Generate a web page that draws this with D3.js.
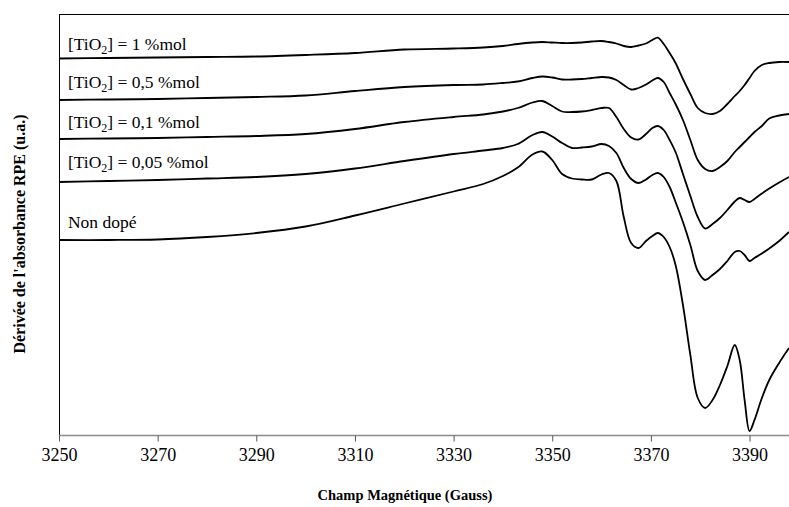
<!DOCTYPE html>
<html>
<head>
<meta charset="utf-8">
<script src="https://cdn.jsdelivr.net/npm/d3@7"></script>
<style>
  html, body { margin: 0; padding: 0; background: #fff; }
  svg { display: block; }
  svg text { font-family: "Liberation Serif", "Times New Roman", Times, serif; fill: #000; }
</style>
</head>
<body>
<svg id="chart" width="789" height="507"></svg>
<script>
// Magnetic field (Gauss)
const field = [3250, 3260, 3270, 3280, 3290, 3300, 3310, 3320, 3330, 3336, 3340, 3343, 3346, 3348, 3350, 3352, 3354, 3356, 3358, 3360, 3361.5, 3363, 3364.5, 3366, 3367.5, 3369, 3370.3, 3371.4, 3372.6, 3373.8, 3375, 3376.5, 3378, 3379.5, 3381, 3382.5, 3384, 3385.5, 3387, 3388, 3389, 3390, 3391, 3392.5, 3394, 3396, 3398];

// EPR absorbance derivative (u.a.), curves offset vertically
const tio2_1 = [376.5, 377, 377.5, 378, 378.5, 380, 382, 385.5, 386.5, 387.5, 389, 391, 392.5, 393, 392.5, 392, 392, 392.5, 393.5, 394, 393, 391.5, 389, 388, 389.5, 391.5, 395, 397.3, 391, 382, 372, 356, 341, 327, 322, 321, 324, 331, 339, 344, 350, 357, 364, 370, 372, 373, 373];
const tio2_05 = [335, 335.5, 336, 337, 338, 339.5, 344, 348, 350, 350.5, 352, 353.5, 357, 358.5, 357.5, 355.5, 355.5, 356, 357, 358, 357.5, 355, 350, 345.5, 347, 350.5, 354.5, 357, 353, 342, 331, 315, 295, 275, 266, 264, 268, 274, 283, 288, 293, 298, 303, 309, 316.5, 319.5, 321];
const tio2_01 = [296, 296.5, 297, 298, 299, 301, 306, 313, 318, 320.5, 323.5, 327, 332.5, 334, 329, 323.5, 323, 323.5, 325, 327, 327, 318, 306, 297.5, 295.5, 301, 307, 309, 305, 295, 283, 261, 239, 218, 206.5, 211, 217, 225, 233.5, 237, 235, 233, 236, 241.5, 246.5, 252.5, 258];
const tio2_005 = [253, 254, 255, 256.5, 258, 261, 266.5, 274, 281, 284.5, 287, 291, 300, 303, 298.5, 292, 287, 287.5, 288.5, 291, 289, 282, 267, 256, 252, 255.5, 260, 262, 258, 248, 233, 213, 190, 164, 155, 160, 166, 174, 183, 184, 180, 174, 177, 181.5, 186.5, 194, 203];
const nonDope = [195, 195, 195.5, 198, 202, 208.5, 219.5, 231.5, 243.5, 251, 259, 267.5, 280.5, 283.5, 275, 261, 256.5, 255.5, 255.5, 260.5, 262, 254, 218, 192, 187, 194, 199, 202, 198, 188, 170, 130, 80, 37, 27, 35, 50, 69, 90, 75, 35, 4, 15, 37, 55, 72, 87];

// Series labels: [main text, subscript, rest]
const labelParts = [
  ["[TiO", "2", "] = 1 %mol"],
  ["[TiO", "2", "] = 0,5 %mol"],
  ["[TiO", "2", "] = 0,1 %mol"],
  ["[TiO", "2", "] = 0,05 %mol"],
  ["Non dopé", "", ""]
];
const labelAnchorY = [385, 347, 307, 267, 207];

const xTicks = [3250, 3270, 3290, 3310, 3330, 3350, 3370, 3390];
const xTitle = "Champ Magnétique (Gauss)";
const yTitle = "Dérivée de l'absorbance RPE (u.a.)";

const seriesList = [tio2_1, tio2_05, tio2_01, tio2_005, nonDope];

const FONT = '"Liberation Serif", "Times New Roman", Times, serif';
const svg = d3.select("#chart");
const mLeft = 59, mRight = 789, mTop = 14, mBottom = 435;

const x = d3.scaleLinear().domain([3250, 3398]).range([mLeft, mRight]);
const y = d3.scaleLinear().domain([0, 421]).range([mBottom, mTop]);

// top border
svg.append("line")
  .attr("x1", mLeft).attr("x2", mRight)
  .attr("y1", mTop + 0.5).attr("y2", mTop + 0.5)
  .attr("stroke", "#000").attr("stroke-width", 1);

// left axis line (no ticks)
svg.append("line")
  .attr("x1", mLeft + 0.5).attr("x2", mLeft + 0.5)
  .attr("y1", mTop).attr("y2", mBottom)
  .attr("stroke", "#000").attr("stroke-width", 1);

// bottom axis
const xAxis = d3.axisBottom(x).tickValues(xTicks).tickFormat(d3.format("d")).tickSize(6).tickPadding(7);
const gx = svg.append("g").attr("transform", `translate(0,${mBottom + 0.5})`).call(xAxis);
gx.attr("font-family", FONT);
gx.select(".domain").attr("stroke", "#8c8c8c").attr("stroke-width", 1.5).attr("d", `M${mLeft},0H${mRight}`);
gx.selectAll(".tick line").attr("stroke", "#555");
gx.selectAll(".tick text")
  .style("font-family", FONT)
  .style("font-size", "18px")
  .attr("fill", "#000");

// curves
const line = d3.line()
  .x((d, i) => x(field[i]))
  .y(d => y(d))
  .curve(d3.curveCatmullRom.alpha(0.5));

svg.append("g")
  .selectAll("path")
  .data(seriesList)
  .join("path")
  .attr("d", d => line(d))
  .attr("fill", "none")
  .attr("stroke", "#000")
  .attr("stroke-width", 1.8)
  .attr("stroke-linejoin", "round");

// labels
const lab = svg.append("g").selectAll("text")
  .data(labelParts)
  .join("text")
  .attr("x", x(3251.8))
  .attr("y", (d, i) => y(labelAnchorY[i]))
  .style("font-family", FONT)
  .style("font-size", "17.5px");
lab.append("tspan").text(d => d[0]);
lab.append("tspan").text(d => d[1]).attr("dy", d => d[1] ? 4 : 0).style("font-size", "12px");
lab.append("tspan").text(d => d[2]).attr("dy", d => d[1] ? -4 : 0);

// axis titles
svg.append("text")
  .attr("x", 405)
  .attr("y", 500)
  .attr("text-anchor", "middle")
  .style("font-family", FONT)
  .style("font-size", "14.5px")
  .style("font-weight", "bold")
  .text(xTitle);

svg.append("text")
  .attr("transform", `translate(25,234) rotate(-90)`)
  .attr("text-anchor", "middle")
  .style("font-family", FONT)
  .style("font-size", "16px")
  .style("font-weight", "bold")
  .text(yTitle);
</script>
</body>
</html>
